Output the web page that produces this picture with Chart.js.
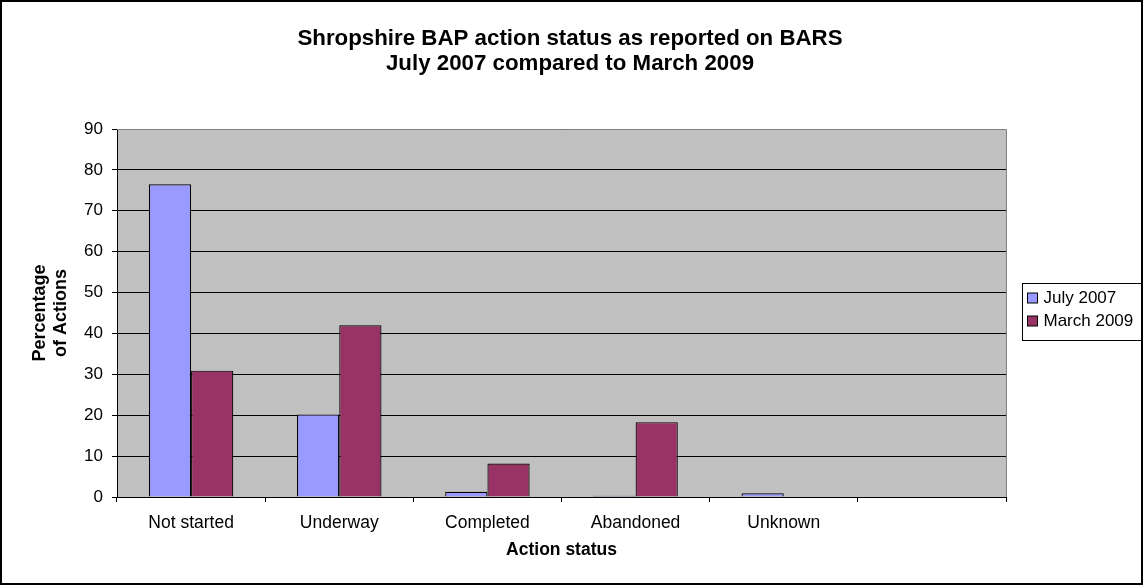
<!DOCTYPE html>
<html><head><meta charset="utf-8">
<script src="https://cdn.jsdelivr.net/npm/chart.js@4"></script>
<style>html,body{margin:0;padding:0;background:#fff}#wrap{width:1143px;height:585px;position:relative}</style>
</head><body><div id="wrap"><canvas id="c" width="1143" height="585"></canvas></div>
<script>
const categories = ["Not started","Underway","Completed","Abandoned","Unknown",""];
const july2007 = [76.5, 20.2, 1.3, 0.3, 0.9, null];
const march2009 = [30.9, 42.0, 8.2, 18.3, 0, null];
const yTicks = [0,10,20,30,40,50,60,70,80,90];
const titleLines = ["Shropshire BAP action status as reported on BARS","July 2007 compared to March 2009"];
const yTitleLines = ["Percentage","of Actions"];
const xTitle = "Action status";

const FONT = "'Liberation Sans', Arial, sans-serif";

const deco = {
  id:'deco',
  beforeDraw(chart){
    const {ctx, chartArea:a} = chart;
    ctx.save();
    ctx.fillStyle='#fff'; ctx.fillRect(0,0,chart.width,chart.height);
    ctx.fillStyle='#C0C0C0'; ctx.fillRect(a.left,a.top,a.right-a.left,a.bottom-a.top);
    ctx.restore();
  },
  afterDraw(chart){
    const {ctx, chartArea:a} = chart;
    ctx.save();
    ctx.strokeStyle='#808080'; ctx.lineWidth=1;
    ctx.beginPath();
    ctx.moveTo(a.left, a.top+0.5); ctx.lineTo(a.right+0.5, a.top+0.5); ctx.lineTo(a.right+0.5, a.bottom);
    ctx.stroke();
    ctx.strokeStyle='#000';
    ctx.lineWidth=2;
    ctx.strokeRect(1,1,chart.width-2,chart.height-2);
    ctx.lineWidth=1;
    ctx.fillStyle='#000';
    ctx.textAlign='center'; ctx.textBaseline='alphabetic';
    ctx.font='bold 22.3px '+FONT;
    ctx.fillText(titleLines[0], 570, 45);
    ctx.fillText(titleLines[1], 570, 70);
    ctx.font='bold 17.5px '+FONT;
    ctx.fillText(xTitle, (a.left+a.right)/2, 555);
    ctx.save();
    ctx.translate(50, 313); ctx.rotate(-Math.PI/2);
    ctx.textBaseline='middle';
    ctx.font='bold 18px '+FONT;
    ctx.fillText(yTitleLines[0], 0, -10);
    ctx.fillText(yTitleLines[1], 0, 11);
    ctx.restore();
    // legend
    const lx=1022.5, ly=283.5;
    ctx.strokeStyle='#000'; ctx.lineWidth=1;
    ctx.strokeRect(lx, ly, 140, 57);
    ctx.font='17px '+FONT; ctx.textAlign='left'; ctx.textBaseline='middle';
    chart.data.datasets.forEach((ds,i)=>{
      const y = 298 + i*23;
      ctx.fillStyle=ds.backgroundColor;
      ctx.fillRect(lx+5, y-5, 10, 10);
      ctx.strokeStyle='#000';
      ctx.strokeRect(lx+5, y-5, 10, 10);
      ctx.fillStyle='#000';
      ctx.fillText(ds.label, lx+21, y);
    });
    ctx.restore();
  }
};

new Chart(document.getElementById('c'), {
  type:'bar',
  data:{
    labels: categories,
    datasets:[
      {label:'July 2007', data: july2007, backgroundColor:'#9999FF', borderColor:'#000', borderWidth:1.2},
      {label:'March 2009', data: march2009, backgroundColor:'#993366', borderColor:'#000', borderWidth:1.2}
    ]
  },
  options:{
    responsive:false, animation:false, devicePixelRatio:1,
    layout:{padding:{left:0, right:137, top:129, bottom:0}},
    plugins:{legend:{display:false}, title:{display:false}, tooltip:{enabled:false}},
    datasets:{bar:{categoryPercentage:0.57, barPercentage:1, grouped:true}},
    scales:{
      x:{
        offset:true,
        grid:{offset:true, drawOnChartArea:false, drawTicks:true, tickLength:5, color:'#000'},
        border:{color:'#000', width:1},
        ticks:{color:'#000', font:{family:FONT, size:17.5}, padding:11, maxRotation:0, autoSkip:false},
        afterFit(s){ s.height = 88; }
      },
      y:{
        min:0, max:90,
        afterBuildTicks(s){ s.ticks = yTicks.map(v=>({value:v})); },
        grid:{color:'#000', tickLength:5, drawTicks:true},
        border:{color:'#000', width:1},
        ticks:{color:'#000', font:{family:FONT, size:17}, padding:9},
        afterFit(s){ s.width = 117; }
      }
    }
  },
  plugins:[deco]
});
</script></body></html>
